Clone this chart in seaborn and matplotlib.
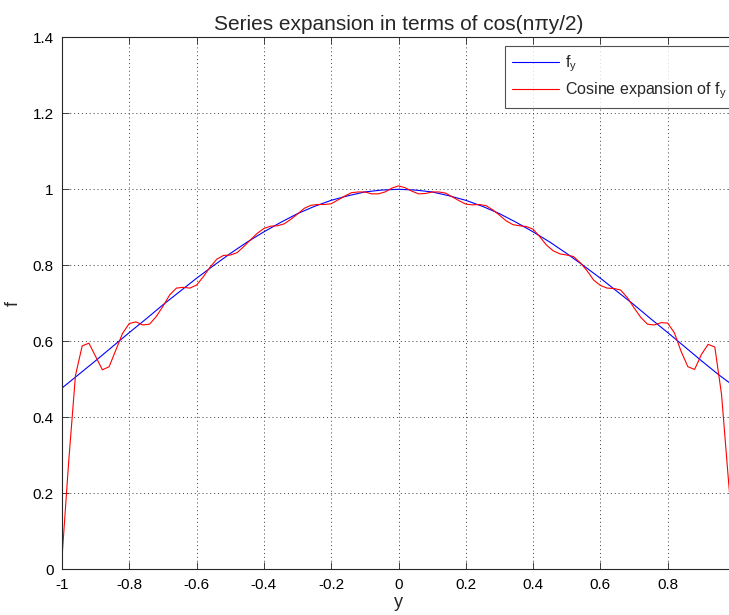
import matplotlib
matplotlib.use("Agg")
import matplotlib.pyplot as plt
import numpy as np
import pandas as pd
import seaborn as sns

# Sample positions along y (step 0.02 for the series, 0.05 for the exact function)
y_series = np.round(np.arange(-1.0, 1.0001, 0.02), 2)
y_exact = np.round(np.arange(-1.0, 1.0001, 0.05), 2)

# Exact function f_y
f_exact = [
    0.477, 0.513, 0.549, 0.586, 0.623, 0.659, 0.696, 0.731, 0.766, 0.799,
    0.831, 0.861, 0.888, 0.913, 0.936, 0.955, 0.971, 0.983, 0.993, 0.998,
    1.000,
    0.998, 0.993, 0.983, 0.971, 0.955, 0.936, 0.913, 0.888, 0.861, 0.831,
    0.799, 0.766, 0.731, 0.696, 0.659, 0.623, 0.586, 0.549, 0.513, 0.480,
]

# Truncated cosine expansion of f_y
f_cosine = [
    0.030, 0.285, 0.510, 0.588, 0.595, 0.560, 0.525, 0.533, 0.577, 0.621,
    0.647, 0.651, 0.643, 0.645, 0.665, 0.692, 0.722, 0.740, 0.742, 0.740,
    0.748, 0.770, 0.795, 0.816, 0.826, 0.827, 0.833, 0.849, 0.867, 0.884,
    0.897, 0.903, 0.904, 0.909, 0.921, 0.935, 0.950, 0.958, 0.960, 0.960,
    0.962, 0.972, 0.982, 0.991, 0.993, 0.993, 0.988, 0.988, 0.993, 1.003,
    1.009,
    1.004, 0.995, 0.988, 0.989, 0.993, 0.993, 0.990, 0.980, 0.970, 0.961,
    0.959, 0.960, 0.957, 0.946, 0.932, 0.917, 0.907, 0.904, 0.902, 0.895,
    0.875, 0.853, 0.838, 0.830, 0.827, 0.823, 0.807, 0.786, 0.761, 0.747,
    0.740, 0.739, 0.735, 0.715, 0.688, 0.663, 0.645, 0.643, 0.649, 0.648,
    0.622, 0.573, 0.533, 0.526, 0.565, 0.592, 0.585, 0.460, 0.240, 0.030,
]

x_ticks = [-1, -0.8, -0.6, -0.4, -0.2, 0, 0.2, 0.4, 0.6, 0.8, 1]
x_tick_labels = ["-1", "-0.8", "-0.6", "-0.4", "-0.2", "0", "0.2", "0.4", "0.6", "0.8", ""]
y_ticks = [0, 0.2, 0.4, 0.6, 0.8, 1.0, 1.2, 1.4]
y_tick_labels = ["0", "0.2", "0.4", "0.6", "0.8", "1", "1.2", "1.4"]

exact_df = pd.DataFrame({"y": y_exact, "f": f_exact})
series_df = pd.DataFrame({"y": y_series, "f": f_cosine})

sns.set_style("white")
plt.rcParams["font.family"] = ["Liberation Sans", "DejaVu Sans"]
plt.rcParams["axes.unicode_minus"] = False
plt.rcParams["mathtext.fontset"] = "custom"
plt.rcParams["mathtext.rm"] = "Liberation Sans"

fig = plt.figure(figsize=(7.29, 6.15), dpi=100)
fig.patch.set_facecolor("white")
# axes run slightly past the right edge of the canvas
ax_w = 673
ax_h = 532
ax = fig.add_axes([62 / 729, 45.7 / 615, ax_w / 729, ax_h / 615])

sns.lineplot(data=exact_df, x="y", y="f", ax=ax, color=(0, 0, 1), lw=0.8,
             sort=False, estimator=None, label=r"f$_\mathregular{y}$")
sns.lineplot(data=series_df, x="y", y="f", ax=ax, color=(1, 0, 0), lw=0.8,
             sort=False, estimator=None,
             label=r"Cosine expansion of f$_\mathregular{y}$")

ax.set_xlim(-1, 1)
ax.set_ylim(0, 1.4)
ax.set_xticks(x_ticks)
ax.set_xticklabels(x_tick_labels)
ax.set_yticks(y_ticks)
ax.set_yticklabels(y_tick_labels)

ax.grid(True, color="0.25", linestyle=(0, (1, 3)), linewidth=0.7)
for s in ax.spines.values():
    s.set_visible(True)
    s.set_color("0.15")
    s.set_linewidth(0.8)

ax.tick_params(direction="in", length=5, width=0.6, colors="0.15",
               labelcolor="black", labelsize=11, top=True, right=True,
               bottom=True, left=True, pad=6)

ax.set_title("Series expansion in terms of cos(n\u03c0y/2)", fontsize=15, pad=5)
ax.set_xlabel("y", fontsize=13, labelpad=2)
ax.set_ylabel("f", fontsize=13, labelpad=8)

leg = ax.legend(loc="upper left",
                bbox_to_anchor=((505 - 62) / ax_w, 1 - 9 / ax_h),
                fontsize=11.5, frameon=True, fancybox=False, handlelength=2.9,
                handletextpad=0.4, borderaxespad=0, borderpad=0.45,
                labelspacing=0.4)
leg.get_frame().set_edgecolor("0.15")
leg.get_frame().set_linewidth(0.8)

fig.savefig("out.png", dpi=100, facecolor="white")
